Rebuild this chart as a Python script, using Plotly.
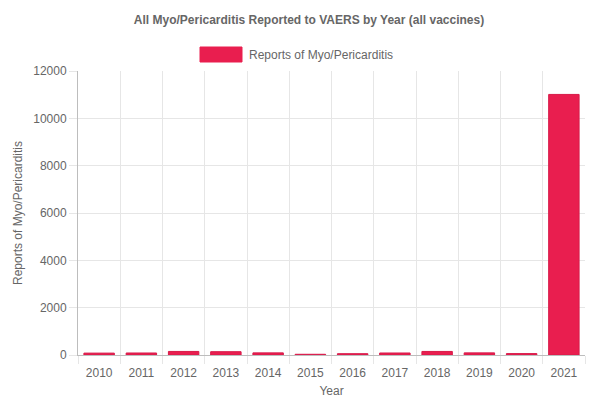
import plotly.graph_objects as go

years = [2010, 2011, 2012, 2013, 2014, 2015, 2016, 2017, 2018, 2019, 2020, 2021]
reports = [80, 85, 150, 140, 90, 30, 55, 85, 150, 90, 60, 11010]
y_ticks = [0, 2000, 4000, 6000, 8000, 10000, 12000]
series_name = "Reports of Myo/Pericarditis"
title_text = "All Myo/Pericarditis Reported to VAERS by Year (all vaccines)"

bar_color = "#E91E4F"
font_fam = "Liberation Sans, Arial, Helvetica, sans-serif"
grid_col = "#e6e6e6"
# page body has an 8px margin, so the figure is sized to fit the 610x398 window
W, H = 602, 390
OFF = 8

fig = go.Figure()
fig.add_trace(go.Bar(
    x=years, y=reports, name=series_name,
    marker=dict(color=bar_color, line=dict(color="#d81b4a", width=1)),
    showlegend=False,
))

# legend drawn manually (Chart.js style wide swatch)
fig.add_shape(type="rect", xref="paper", yref="paper",
              x0=(200 - 78) / 507, x1=(242 - 78) / 507,
              y0=(355 - 62) / 284, y1=(355 - 47) / 284,
              fillcolor=bar_color, line=dict(color=bar_color, width=1))
fig.add_annotation(text=series_name, xref="paper", yref="paper",
                   x=(247 - 78) / 507, y=(355 - 54.5) / 284,
                   xanchor="left", yanchor="middle", showarrow=False,
                   font=dict(size=12, color="#666666", family=font_fam))

fig.update_layout(
    width=W, height=H,
    margin=dict(l=78 - OFF, r=25, t=71 - OFF, b=43, autoexpand=False),
    paper_bgcolor="white", plot_bgcolor="white",
    font=dict(family=font_fam, size=12, color="#666666"),
    title=dict(text="<b>" + title_text + "</b>", x=0.5, xanchor="center",
               y=1 - (20 - OFF) / H, yanchor="middle",
               font=dict(size=12, color="#666666", family=font_fam)),
    bargap=0.28,
)

fig.update_xaxes(
    range=[2009.5, 2021.5], tickmode="array", tickvals=years,
    ticktext=[str(y) for y in years], showgrid=False, automargin=False,
    ticks="outside", ticklen=7, tickcolor="rgba(0,0,0,0)",
    showline=True, linecolor="#bdbdbd", linewidth=1,
    minor=dict(tick0=2009.5, dtick=1, showgrid=True, gridcolor=grid_col,
               ticks="outside", ticklen=8, tickcolor=grid_col),
    title=dict(text="Year", font=dict(size=12, color="#666666"), standoff=14),
    tickfont=dict(size=12, color="#666666"), zeroline=False,
)
fig.update_yaxes(
    range=[0, 12000], tickmode="array", tickvals=y_ticks,
    ticktext=[str(v) for v in y_ticks], automargin=False,
    showgrid=True, gridcolor=grid_col, ticks="outside", ticklen=8,
    tickcolor=grid_col, showline=True, linecolor="#bdbdbd", linewidth=1,
    zeroline=False,
    title=dict(text=series_name, font=dict(size=12, color="#666666"), standoff=8),
    tickfont=dict(size=12, color="#666666"),
)

fig.write_html("out.html")
